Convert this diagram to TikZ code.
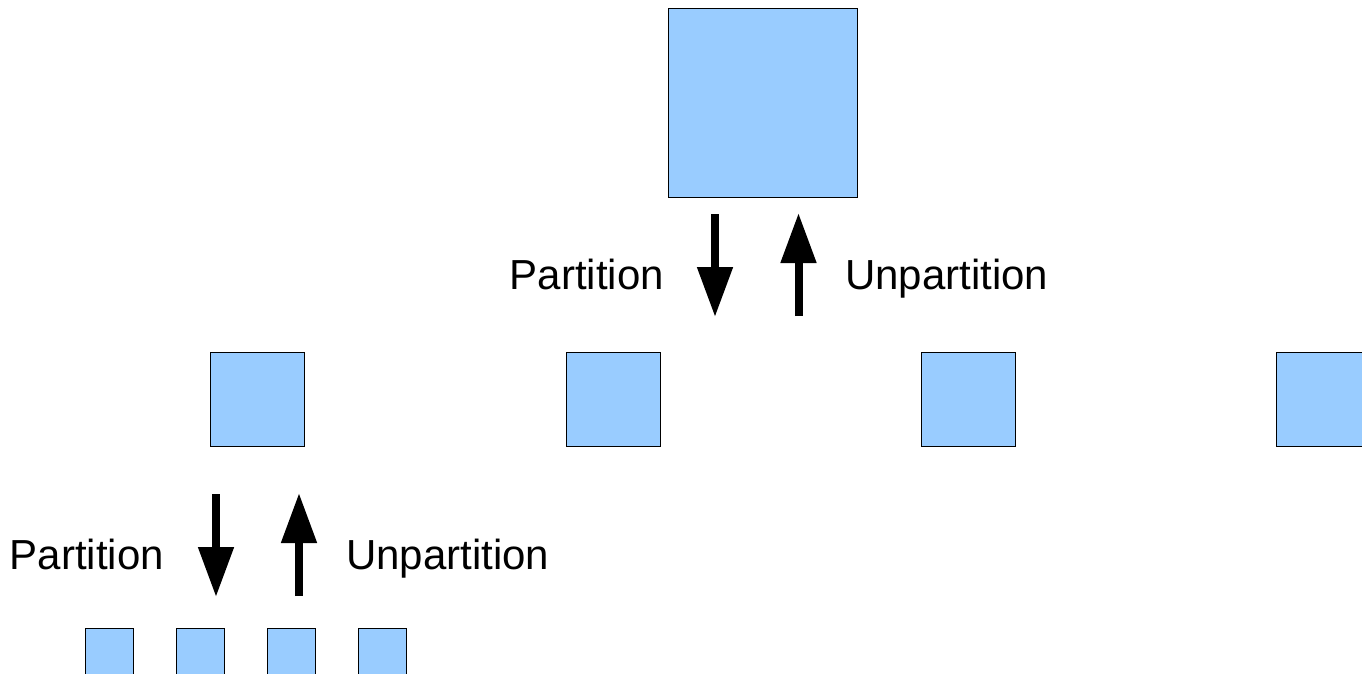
\documentclass[tikz,border=0pt]{standalone}
\usepackage{fontspec}
\setmainfont{Liberation Sans}
\usetikzlibrary{arrows.meta}
\definecolor{boxblue}{HTML}{99CCFF}
\tikzset{
  part/.style={draw=black,fill=boxblue,line width=1pt,inner sep=0pt,minimum size=#1},
  fatarrow/.style={line width=8pt,-{Triangle[length=50pt,width=34pt]}},
  lbl/.style={inner sep=0pt,font=\fontsize{42}{50}\selectfont}
}
\begin{document}
\begin{tikzpicture}[x=1pt,y=-1pt]
    \clip (0,0) rectangle (1362,674);
    \useasboundingbox (0,0) rectangle (1362,674);
    % whole
    \node[part=189pt] (whole) at (762.5,103) {};
    % first level
    \node[part=94pt] (mida) at (257.5,399) {};
    \node[part=94pt] (midb) at (613.5,399) {};
    \node[part=94pt] (midc) at (968.5,399) {};
    \node[part=94pt] (midd) at (1323.5,399) {};
    % second level
    \foreach \i/\x in {a/109,b/200,c/291,d/382}
      \node[part=48pt] (small\i) at (\x,652) {};
    % arrows, top
    \coordinate (downtopA) at (715,214);
    \coordinate (downtopB) at (715,317);
    \coordinate (uptopA) at (798.5,316);
    \coordinate (uptopB) at (798.5,213);
    \draw[fatarrow] (downtopA) -- (downtopB);
    \draw[fatarrow] (uptopA) -- (uptopB);
    \node[lbl,anchor=base east] (parttop) at (664,289) {Partition};
    \node[lbl,anchor=base west] (unparttop) at (845,289) {Unpartition};
    % arrows, bottom
    \coordinate (downlowA) at (216,494);
    \coordinate (downlowB) at (216,597);
    \coordinate (uplowA) at (299,596);
    \coordinate (uplowB) at (299,493);
    \draw[fatarrow] (downlowA) -- (downlowB);
    \draw[fatarrow] (uplowA) -- (uplowB);
    \node[lbl,anchor=base east] (partlow) at (164,569) {Partition};
    \node[lbl,anchor=base west] (unpartlow) at (346,569) {Unpartition};
\end{tikzpicture}
\end{document}
